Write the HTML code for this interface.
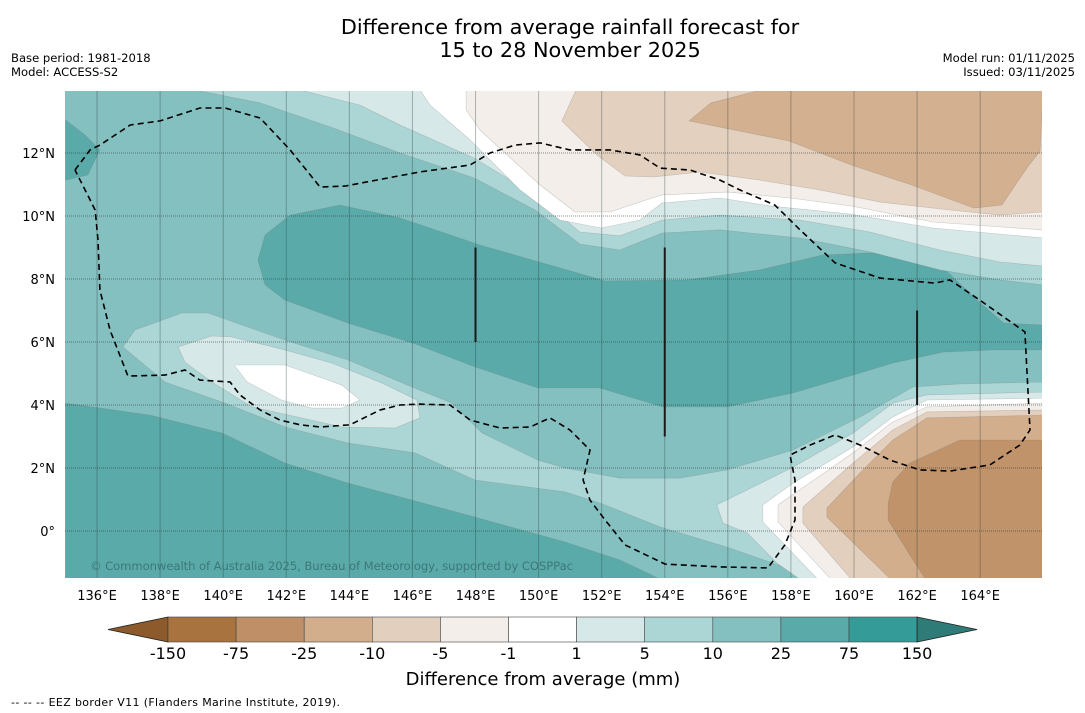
<!DOCTYPE html>
<html><head><meta charset="utf-8"><style>
html,body{margin:0;padding:0;background:#fff;}
svg{display:block;font-family:"DejaVu Sans","Liberation Sans",sans-serif;}
</style></head><body>
<svg id="chart" width="1085" height="713" viewBox="0 0 1085 713" xmlns="http://www.w3.org/2000/svg">
<text x="570" y="34" text-anchor="middle" font-size="20.8" fill="#000">Difference from average rainfall forecast for</text>
<text x="570" y="57" text-anchor="middle" font-size="20.8" fill="#000">15 to 28 November 2025</text>
<text x="11" y="62" font-size="11.6">Base period: 1981-2018</text>
<text x="11" y="76" font-size="11.6">Model: ACCESS-S2</text>
<text x="1075" y="62" font-size="11.6" text-anchor="end">Model run: 01/11/2025</text>
<text x="1075" y="76" font-size="11.6" text-anchor="end">Issued: 03/11/2025</text>
<defs><clipPath id="mapclip"><rect x="65" y="91" width="977" height="487"/></clipPath></defs>
<g id="map" clip-path="url(#mapclip)"></g>
<g id="axes"></g>
<g id="cbar"></g>
<text x="543" y="685" text-anchor="middle" font-size="18">Difference from average (mm)</text>
<text x="11" y="706" font-size="11" textLength="329">--  --  -- EEZ border V11 (Flanders Marine Institute, 2019).</text>
</svg>
<script>
// ---- data (lon/lat) ----
const lonTicks=[136,138,140,142,144,146,148,150,152,154,156,158,160,162,164];
const latTicks=[0,2,4,6,8,10,12];
const cbLevels=["-150","-75","-25","-10","-5","-1","1","5","10","25","75","150"];
const cbColors=["#a9733f","#bf9067","#d2ae8c","#e3cfbe","#f3eee9","#ffffff","#d6e9e8","#acd5d5","#85c0c0","#5aaaaa","#359b98"];
const topLight510=[[139.11,14],[141.17,13.59],[143.39,12.83],[145.61,12.00],[147.95,11.21],[149.89,10.19],[151.31,9.11],[152.58,8.92],[153.91,9.46],[155.75,9.56],[158.29,9.30],[160.51,8.86],[162.72,8.29],[164.63,7.97],[166,7.81],[166,14]];
const topPale=[[142.44,14],[144.34,13.52],[145.61,12.89],[147.95,11.84],[149.89,10.67],[151.31,9.49],[152.58,9.37],[153.91,9.87],[155.75,10.03],[158.29,9.87],[160.51,9.49],[162.72,8.92],[164.63,8.54],[166,8.41],[166,14]];
const topWhite=[[146.24,14],[146.56,13.52],[147.83,12.41],[149.41,10.83],[150.68,9.87],[151.98,9.62],[153.21,9.87],[153.91,10.41],[155.75,10.57],[157.33,10.32],[159.88,10.06],[162.50,9.62],[166,9.30],[166,14]];
const topM5=[[147.70,14],[147.70,13.37],[148.14,12.73],[150.05,10.98],[151.15,10.13],[152.26,10.13],[153.91,10.67],[156.00,10.76],[157.97,10.57],[159.91,10.32],[162.50,9.81],[166,9.56],[166,14]];
const topM10=[[151.19,14],[150.74,13.02],[151.06,12.70],[151.85,11.94],[152.74,11.27],[153.66,11.24],[155.12,11.40],[157.02,11.14],[158.92,10.83],[160.83,10.44],[163.04,10.19],[164.63,10.03],[166,10.13],[166,14]];
const topM25=[[157.05,14],[155.46,13.59],[154.77,13.02],[157.94,12.38],[159.91,11.62],[161.84,10.98],[163.80,10.25],[164.69,10.35],[165.48,11.52],[165.90,12.06],[166,14]];
const cornerDark=[[135,13.05],[135.62,12.57],[136.09,12.1],[135.71,11.3],[135,11.14]];
const lowerDark=[[135,4.06],[137.68,3.68],[139.96,3.11],[141.96,2.16],[143.96,1.52],[145.99,0.98],[147.98,0.44],[150.84,-0.35],[152.58,-0.92],[154.01,-1.6],[135,-1.6]];
const centralDark=[[141.10,8.60],[141.33,9.40],[142.12,10.03],[143.70,10.35],[145.61,9.94],[148.14,9.08],[152.11,7.94],[154.71,7.97],[157.02,8.29],[158.99,8.76],[160.51,8.83],[162.50,8.67],[163.90,7.33],[164.75,6.60],[166,6.54],[166,5.75],[164.41,5.75],[162.82,5.68],[161.23,5.33],[159.97,4.95],[158.07,4.38],[155.97,3.94],[153.94,3.94],[151.94,4.54],[149.98,4.54],[147.98,5.21],[145.99,5.97],[143.96,6.60],[141.96,7.33],[141.33,7.81]];
const band510=[[136.82,5.84],[137.20,6.38],[138.69,6.92],[139.52,6.92],[141.96,6.06],[143.96,5.43],[145.99,4.57],[147.25,4.06],[148.21,3.11],[149.98,2.25],[150.84,2.00],[152.58,1.68],[154.48,1.68],[155.97,1.94],[158.07,2.57],[160.19,3.62],[161.87,4.57],[163.36,4.67],[166,4.73],[166,-1.6],[158.70,-1.6],[158.07,-1.24],[155.97,-0.51],[153.85,0.13],[151.94,0.89],[150.84,1.24],[147.98,1.62],[146.08,2.48],[143.96,2.79],[141.96,3.30],[140.06,4.06],[138.15,4.73]];
const paleBlob=[[138.57,5.84],[138.79,5.36],[139.64,4.73],[140.91,3.94],[143.77,3.30],[145.45,3.27],[146.24,3.59],[146.14,4.16],[145.03,4.70],[143.45,5.33],[141.96,5.75],[140.28,6.16],[139.64,6.19]];
const whiteBlob=[[140.35,5.27],[140.76,4.73],[141.85,4.16],[142.80,3.90],[143.77,3.90],[144.34,4.16],[143.77,4.63],[143.32,4.79],[141.96,5.27]];
const lrPale=[[155.65,0.83],[156.61,1.30],[158.07,2.03],[159.97,3.11],[161.23,4.06],[162.31,4.32],[166,4.41],[166,-1.6],[158.38,-1.6],[157.56,-1.02],[156.61,-0.06],[155.85,0.25]];
const lrWhite=[[157.11,0.83],[158.07,1.52],[159.97,2.67],[161.23,3.62],[162.31,4.16],[166,4.22],[166,-1.6],[158.92,-1.6],[157.11,0.29]];
const lrM5=[[157.59,0.83],[159.97,2.48],[161.23,3.46],[162.31,3.94],[166,4.06],[166,-1.6],[159.33,-1.6],[157.59,0.29]];
const lrM10=[[158.38,0.76],[159.97,2.16],[161.23,3.21],[162.31,3.78],[166,3.84],[166,-1.6],[159.97,-1.6],[158.38,0.25]];
const lrM25=[[159.14,0.73],[160.19,1.84],[161.23,2.89],[162.31,3.59],[166,3.68],[166,-1.6],[161.23,-1.6],[159.14,0.44]];
const lrM75=[[161.08,0.89],[161.23,1.56],[161.77,2.16],[163.36,2.89],[166,2.89],[166,-1.6],[162.31,-1.6],[161.87,-0.92],[161.08,0.35]];
const eezLine=[[135.30,11.46],[135.78,12.10],[136.09,12.25],[137.05,12.89],[138.00,13.02],[139.26,13.43],[140.06,13.43],[141.17,13.11],[142.12,12.10],[143.07,10.92],[143.86,10.95],[146.24,11.40],[147.83,11.62],[148.46,12.00],[149.25,12.25],[150.05,12.32],[150.99,12.10],[152.26,12.10],[153.21,11.94],[153.85,11.52],[154.80,11.46],[155.75,11.14],[156.38,10.83],[157.49,10.35],[158.29,9.56],[159.40,8.51],[160.83,8.03],[162.56,7.87],[163.04,7.97],[163.99,7.33],[165.42,6.32],[165.58,3.21],[165.26,2.73],[164.31,2.10],[163.04,1.90],[162.09,1.94],[161.14,2.25],[160.19,2.73],[159.40,3.05],[158.61,2.73],[157.97,2.41],[158.13,1.62],[158.13,0.35],[157.81,-0.44],[157.27,-1.17],[155.75,-1.14],[154.01,-1.05],[152.74,-0.44],[152.11,0.35],[151.63,0.98],[151.41,1.62],[151.63,2.57],[150.99,3.21],[150.36,3.59],[149.73,3.30],[148.78,3.27],[147.83,3.52],[147.19,4.00],[146.24,4.03],[145.61,4.00],[144.97,3.84],[144.02,3.37],[143.07,3.30],[142.44,3.37],[141.80,3.52],[141.17,3.84],[140.53,4.32],[140.22,4.73],[139.26,4.79],[138.79,5.11],[138.15,4.95],[136.98,4.92],[136.41,6.38],[136.09,7.65],[136.03,9.24],[135.94,10.19],[135.78,10.51],[135.30,11.46]];
const segLons=[148,154,162];
const segLat0=[6,3,4];
const segLat1=[9,9,7];

// ---- axes ----
const X=lon=>65.5+(lon-135)*31.54;
const Y=lat=>90+(14-lat)*31.5;
const NS="http://www.w3.org/2000/svg";
function mk(tag,parent){const e=document.createElementNS(NS,tag);parent.appendChild(e);return e;}
const map=document.getElementById('map');
const pts=a=>a.map(p=>X(p[0]).toFixed(1)+","+Y(p[1]).toFixed(1)).join(" ");

const bg=mk('rect',map);bg.setAttribute('x',65);bg.setAttribute('y',91);bg.setAttribute('width',977);bg.setAttribute('height',487);bg.setAttribute('fill','#85c0c0');



const layers=[
 [cornerDark,'#5aaaaa','dark-corner-region'],
 [lowerDark,'#5aaaaa','southern-wet-region'],
 [centralDark,'#5aaaaa','central-wet-band'],
 [band510,'#acd5d5','slightly-wet-band'],
 [paleBlob,'#d6e9e8','near-normal-blob'],
 [whiteBlob,'#ffffff','neutral-blob'],
 [lrPale,'#d6e9e8','southeast-near-normal'],
 [lrWhite,'#ffffff','southeast-neutral'],
 [lrM5,'#f3eee9','southeast-dry-5'],
 [lrM10,'#e3cfbe','southeast-dry-10'],
 [lrM25,'#d2ae8c','southeast-dry-25'],
 [lrM75,'#c0936a','southeast-dry-75'],
 [topLight510,'#acd5d5','north-slightly-wet'],
 [topPale,'#d6e9e8','north-near-normal'],
 [topWhite,'#ffffff','north-neutral'],
 [topM5,'#f3eee9','north-dry-5'],
 [topM10,'#e3d0bf','north-dry-10'],
 [topM25,'#d2b090','north-dry-25']
];
layers.forEach(l=>{
 const p=mk('polygon',map);
 p.setAttribute('points',pts(l[0]));
 p.setAttribute('fill',l[1]);
 p.setAttribute('stroke','rgba(120,120,120,0.35)');
 p.setAttribute('stroke-width','0.6');
 
 
});

lonTicks.forEach(v=>{
 const l=mk('line',map);l.setAttribute('x1',X(v));l.setAttribute('x2',X(v));l.setAttribute('y1',91);l.setAttribute('y2',578);
 l.setAttribute('stroke','rgba(40,60,60,0.35)');l.setAttribute('stroke-width','1');
 
 
});
latTicks.forEach(v=>{
 const l=mk('line',map);l.setAttribute('x1',65);l.setAttribute('x2',1042);l.setAttribute('y1',Y(v));l.setAttribute('y2',Y(v));
 l.setAttribute('stroke','rgba(40,50,50,0.55)');l.setAttribute('stroke-width','1');l.setAttribute('stroke-dasharray','1,1');
 
 
});
segLons.forEach((v,i)=>{
 const l=mk('line',map);l.setAttribute('x1',X(v));l.setAttribute('x2',X(v));l.setAttribute('y1',Y(segLat1[i]));l.setAttribute('y2',Y(segLat0[i]));
 l.setAttribute('stroke','#1a1a1a');l.setAttribute('stroke-width','2');
 
 
});
const ez=mk('polyline',map);ez.setAttribute('points',pts(eezLine));ez.setAttribute('fill','none');
ez.setAttribute('stroke','#000');ez.setAttribute('stroke-width','1.6');ez.setAttribute('stroke-dasharray','6,4');


const cp=mk('text',map);cp.setAttribute('x',90);cp.setAttribute('y',570);cp.setAttribute('font-size','11.6');cp.setAttribute('fill','#3d7878');
cp.setAttribute('textLength','483');
cp.textContent='© Commonwealth of Australia 2025, Bureau of Meteorology, supported by COSPPac';



const axes=document.getElementById('axes');
lonTicks.forEach(v=>{
 const t=mk('text',axes);t.setAttribute('x',X(v));t.setAttribute('y',600);t.setAttribute('text-anchor','middle');t.setAttribute('font-size','13');
 t.textContent=v+'°E';
 
 
});
latTicks.forEach(v=>{
 const t=mk('text',axes);t.setAttribute('x',55);t.setAttribute('y',Y(v)+5);t.setAttribute('text-anchor','end');t.setAttribute('font-size','13');
 t.textContent=v===0?'0°':v+'°N';
 
 
});

const cb=document.getElementById('cbar');
const cbx0=168,cbw=68.1,cby=617,cbh=25;
const lt=mk('polygon',cb);lt.setAttribute('points',`${cbx0},${cby} 108,${cby+cbh/2} ${cbx0},${cby+cbh}`);lt.setAttribute('fill','#8c5a2b');lt.setAttribute('stroke','#222');lt.setAttribute('stroke-width','0.8');


cbColors.forEach((c,i)=>{
 const r=mk('rect',cb);r.setAttribute('x',cbx0+i*cbw);r.setAttribute('y',cby);r.setAttribute('width',cbw);r.setAttribute('height',cbh);r.setAttribute('fill',c);r.setAttribute('stroke','#444');r.setAttribute('stroke-width','0.6');
 
 
});
const xe=cbx0+cbColors.length*cbw;
const rt=mk('polygon',cb);rt.setAttribute('points',`${xe},${cby} ${xe+60},${cby+cbh/2} ${xe},${cby+cbh}`);rt.setAttribute('fill','#2e7b78');rt.setAttribute('stroke','#222');rt.setAttribute('stroke-width','0.8');


cbLevels.forEach((s,i)=>{
 const t=mk('text',cb);t.setAttribute('x',cbx0+i*cbw);t.setAttribute('y',659);t.setAttribute('text-anchor','middle');t.setAttribute('font-size','16');
 t.textContent=s;
 
 
});
</script>
</body></html>
